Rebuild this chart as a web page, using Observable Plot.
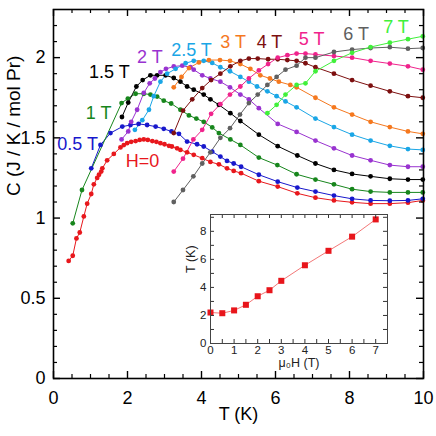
<!DOCTYPE html>
<html><head><meta charset="utf-8">
<script src="https://cdn.jsdelivr.net/npm/d3@7"></script>
<script src="https://cdn.jsdelivr.net/npm/@observablehq/plot@0.6"></script>
<style>
html,body{margin:0;padding:0;background:#fff;}
#wrap{position:relative;width:436px;height:436px;}
#wrap svg{position:absolute;overflow:visible;}
</style></head><body><div id="wrap"></div>
<script>
// ---------- data: specific heat C (J/K/mol Pr) vs T (K) for each field ----------
const T_0   = [0.41,0.52,0.62,0.71,0.82,0.91,1.02,1.09,1.18,1.23,1.29,1.32,1.45,1.63,1.81,1.9,1.99,2.1,2.22,2.33,2.44,2.55,2.67,2.78,2.89,3.0,3.12,3.2,3.34,3.43,3.61,3.79,4.02,4.24,4.47,4.69,4.87,5.07,5.55,6.06,6.59,7.08,7.58,8.07,8.57,9.09,9.58,9.98];
const C_0   = [0.733,0.765,0.873,0.91,1.01,1.09,1.15,1.21,1.25,1.27,1.29,1.31,1.36,1.40,1.44,1.455,1.467,1.475,1.48,1.487,1.49,1.487,1.48,1.475,1.467,1.46,1.45,1.446,1.435,1.425,1.41,1.394,1.373,1.35,1.335,1.31,1.294,1.28,1.23,1.196,1.154,1.127,1.11,1.098,1.09,1.09,1.096,1.11];
const T_05  = [1.02,1.27,1.54,1.86,2.08,2.3,2.53,2.76,2.98,3.19,3.39,3.61,3.88,4.06,4.29,4.51,4.69,4.87,5.07,5.55,6.06,6.59,7.08,7.58,8.07,8.57,9.09,9.58,9.98];
const C_05  = [1.31,1.456,1.53,1.57,1.58,1.587,1.58,1.57,1.556,1.54,1.525,1.477,1.46,1.446,1.414,1.383,1.356,1.34,1.32,1.27,1.227,1.19,1.165,1.14,1.12,1.11,1.108,1.11,1.12];
const T_1   = [0.52,0.77,1.84,2.01,2.22,2.44,2.62,2.8,2.98,3.18,3.43,3.66,3.86,4.06,4.29,4.47,4.78,5.05,5.55,6.05,6.57,7.08,7.58,8.07,8.57,9.09,9.58,9.98];
const C_1   = [0.967,1.175,1.717,1.745,1.775,1.775,1.77,1.757,1.732,1.714,1.675,1.64,1.62,1.60,1.565,1.53,1.49,1.456,1.377,1.33,1.273,1.24,1.21,1.18,1.165,1.16,1.16,1.16];
const T_15  = [1.85,2.02,2.24,2.41,2.62,2.8,3.03,3.25,3.43,3.61,3.79,4.06,4.24,4.47,4.78,5.05,5.55,6.06,6.59,7.08,7.58,8.07,8.57,9.09,9.58,9.98];
const C_15  = [1.63,1.72,1.82,1.86,1.89,1.89,1.89,1.873,1.85,1.82,1.80,1.77,1.74,1.706,1.654,1.605,1.52,1.448,1.39,1.34,1.30,1.275,1.26,1.245,1.24,1.24];
const T_2   = [1.84,2.02,2.1,2.26,2.44,2.6,2.74,2.89,3.04,3.25,3.48,3.70,3.79,4.02,4.24,4.51,4.77,5.05,5.28,5.55,6.06,6.57,7.08,7.58,8.07,8.57,9.09,9.58,9.98];
const C_2   = [1.49,1.54,1.60,1.675,1.78,1.84,1.87,1.91,1.93,1.945,1.95,1.94,1.925,1.89,1.87,1.85,1.815,1.77,1.74,1.685,1.587,1.537,1.483,1.435,1.39,1.36,1.33,1.32,1.32];
const T_25  = [2.2,2.4,2.58,2.71,2.89,3.07,3.3,3.57,3.79,4.06,4.29,4.51,4.77,5.05,5.28,5.5,5.78,6.03,6.27,6.57,7.08,7.58,8.07,8.57,9.09,9.58,9.98];
const C_25  = [1.55,1.61,1.675,1.76,1.85,1.90,1.93,1.965,1.98,1.98,1.967,1.94,1.915,1.88,1.85,1.82,1.79,1.76,1.727,1.69,1.62,1.567,1.52,1.483,1.45,1.43,1.425];
const T_3   = [3.25,3.46,3.66,3.93,4.2,4.5,4.77,5.05,5.32,5.59,5.85,6.09,6.4,6.57,7.08,7.58,8.07,8.57,9.09,9.58,9.98];
const C_3   = [1.815,1.88,1.935,1.97,1.985,1.985,1.98,1.96,1.93,1.89,1.87,1.85,1.83,1.815,1.75,1.69,1.645,1.60,1.567,1.54,1.525];
const T_4   = [3.25,3.5,3.75,4.02,4.26,4.51,4.78,5.05,5.28,5.52,5.8,6.06,6.32,6.57,6.81,7.08,7.58,8.07,8.57,9.09,9.58,9.98];
const C_4   = [1.53,1.67,1.74,1.81,1.86,1.90,1.946,1.98,1.994,1.994,1.99,1.99,1.985,1.98,1.965,1.94,1.90,1.86,1.825,1.79,1.76,1.75];
const T_5   = [3.25,3.5,3.78,4.02,4.26,4.51,4.77,5.05,5.28,5.55,5.8,6.06,6.32,6.57,6.81,7.08,7.58,8.07,8.57,9.09,9.58,9.98];
const C_5   = [1.29,1.37,1.49,1.55,1.65,1.71,1.77,1.82,1.87,1.92,1.96,2.0,2.015,2.025,2.025,2.02,2.01,2.0,1.98,1.963,1.946,1.925];
const T_6   = [3.25,3.5,3.78,4.02,4.24,4.51,4.77,5.04,5.28,5.52,5.78,6.03,6.27,6.57,6.81,7.08,7.58,8.07,8.57,9.09,9.58,9.98];
const C_6   = [1.10,1.175,1.26,1.34,1.41,1.50,1.56,1.645,1.717,1.77,1.83,1.88,1.925,1.95,2.0,2.0,2.035,2.05,2.06,2.065,2.056,2.06];
const T_7   = [5.78,6.03,6.27,6.57,6.81,7.08,7.58,8.07,8.57,9.09,9.58,9.98];
const C_7   = [1.654,1.706,1.77,1.83,1.84,1.915,1.98,2.03,2.066,2.093,2.115,2.133];

const fieldNames  = ["H=0","0.5 T","1 T","1.5 T","2 T","2.5 T","3 T","4 T","5 T","6 T","7 T"];
const fieldColors = ["#e8171c","#1818cc","#17861c","#000000","#9933d0","#1aa6e6","#f5781e","#7d1010","#f0238c","#606060","#40f03a"];
// label anchor positions (T, C) for each curve name
const labelT = [1.95,0.10,0.87,0.96,2.26,3.18,4.51,5.49,6.63,7.83,8.91];
const labelC = [1.32,1.425,1.617,1.873,1.967,2.01,2.06,2.06,2.077,2.108,2.154];

// inset: transition temperature vs field
const insetH = [0,0.5,1,1.5,2,2.5,3,4,5,6,7];
const insetT = [2.21,2.16,2.36,2.76,3.37,3.80,4.47,5.58,6.61,7.62,8.85];

// tick values
const xMajor = [0,2,4,6,8,10];
const xMinor = [0.5,1,1.5,2.5,3,3.5,4.5,5,5.5,6.5,7,7.5,8.5,9,9.5];
const yMajor = [0,0.5,1,1.5,2];
const yMinor = [0.1,0.2,0.3,0.4,0.6,0.7,0.8,0.9,1.1,1.2,1.3,1.4,1.6,1.7,1.8,1.9,2.1,2.2];
const ixLabels = [0,1,2,3,4,5,6,7];
const ixTicks = [0.5,1,1.5,2,2.5,3,3.5,4,4.5,5,5.5,6,6.5,7];
const iyLabels = [0,2,4,6,8];
const iyTicks = [1,2,3,4,5,6,7,8,9];

const xTitle = "T (K)";
const yTitle = "C (J / K / mol Pr)";
const ixTitle = "μ₀H (T)";
const iyTitle = "T (K)";

// ---------- build tables ----------
const curves = [[T_0,C_0],[T_05,C_05],[T_1,C_1],[T_15,C_15],[T_2,C_2],[T_25,C_25],[T_3,C_3],[T_4,C_4],[T_5,C_5],[T_6,C_6],[T_7,C_7]];
const rows = [];
curves.forEach(([Ts, Cs], k) => Ts.forEach((t, i) => rows.push({field: fieldNames[k], T: t, C: Cs[i]})));
const labelRows = fieldNames.map((f, i) => ({field: f, T: labelT[i], C: labelC[i]}));
const insetRows = insetH.map((h, i) => ({H: h, Tn: insetT[i]}));

const FONT = "'Liberation Sans', Arial, Helvetica, sans-serif";
const wrap = document.getElementById("wrap");

// ---------- main chart ----------
const W = 436, H = 436, mL = 53, mR = 13, mT = 9, mB = 58;
const fw = W - mL - mR, fh = H - mT - mB;
const id = d => d;
const main = Plot.plot({
  width: W, height: H, marginLeft: mL, marginRight: mR, marginTop: mT, marginBottom: mB,
  style: {fontFamily: FONT, fontSize: "18px", color: "black", background: "transparent"},
  x: {domain: [0, 10]},
  y: {domain: [0, 2.3]},
  color: {domain: fieldNames, range: fieldColors},
  marks: [
    Plot.line(rows, {x: "T", y: "C", z: "field", stroke: "field", strokeWidth: 1}),
    Plot.dot(rows, {x: "T", y: "C", fill: "field", r: 2.4}),
    Plot.text(labelRows, {x: "T", y: "C", text: "field", fill: "field", textAnchor: "start", lineAnchor: "bottom", fontSize: 18}),
    // inward ticks on all four sides
    Plot.tickX(xMajor, {x: id, insetTop: fh - 7, strokeWidth: 1.4}),
    Plot.tickX(xMinor, {x: id, insetTop: fh - 4, strokeWidth: 1.2}),
    Plot.tickX(xMajor, {x: id, insetBottom: fh - 7, strokeWidth: 1.4}),
    Plot.tickX(xMinor, {x: id, insetBottom: fh - 4, strokeWidth: 1.2}),
    Plot.tickY(yMajor, {y: id, insetRight: fw - 7, strokeWidth: 1.4}),
    Plot.tickY(yMinor, {y: id, insetRight: fw - 4, strokeWidth: 1.2}),
    Plot.tickY(yMajor, {y: id, insetLeft: fw - 7, strokeWidth: 1.4}),
    Plot.tickY(yMinor, {y: id, insetLeft: fw - 4, strokeWidth: 1.2}),
    Plot.axisX(xMajor, {anchor: "bottom", tickSize: 0, tickPadding: 13, fontSize: 18, label: null, tickFormat: d => String(d)}),
    Plot.axisY(yMajor, {anchor: "left", tickSize: 0, tickPadding: 8, fontSize: 18, label: null, tickFormat: d => String(d)}),
    Plot.frame({stroke: "black", strokeWidth: 1.6}),
    Plot.text([yTitle], {text: id, frameAnchor: "left", rotate: -90, dx: -40, dy: 2, fontSize: 19}),
    Plot.text([xTitle], {text: id, frameAnchor: "bottom", dy: 41, fontSize: 18})
  ]
});
main.style.left = "0px"; main.style.top = "0px";
wrap.appendChild(main);

// ---------- inset ----------
const iW = 212, iH = 169, iL = 30, iR = 5, iT = 5, iB = 35;
const ifw = iW - iL - iR, ifh = iH - iT - iB;
const inset = Plot.plot({
  width: iW, height: iH, marginLeft: iL, marginRight: iR, marginTop: iT, marginBottom: iB,
  style: {fontFamily: FONT, fontSize: "11.5px", color: "#222", background: "transparent"},
  x: {domain: [0, 7.5]},
  y: {domain: [0, 9.2]},
  marks: [
    Plot.frame({fill: "white"}),
    Plot.line(insetRows, {x: "H", y: "Tn", stroke: "#f06868", strokeWidth: 0.9}),
    Plot.dot(insetRows, {x: "H", y: "Tn", symbol: "square", fill: "#e8151b", r: 3.4}),
    Plot.tickX(ixTicks, {x: id, insetTop: ifh - 4, stroke: "#333"}),
    Plot.tickX(ixTicks, {x: id, insetBottom: ifh - 4, stroke: "#333"}),
    Plot.tickY(iyTicks, {y: id, insetRight: ifw - 4, stroke: "#333"}),
    Plot.tickY(iyTicks, {y: id, insetLeft: ifw - 4, stroke: "#333"}),
    Plot.axisX(ixLabels, {anchor: "bottom", tickSize: 0, tickPadding: 2, fontSize: 11.5, label: null, tickFormat: d => String(d)}),
    Plot.axisY(iyLabels, {anchor: "left", tickSize: 0, tickPadding: 4, fontSize: 11.5, label: null, tickFormat: d => String(d)}),
    Plot.frame({stroke: "#444", strokeWidth: 1}),
    Plot.text([ixTitle], {text: id, frameAnchor: "bottom", dy: 23, fontSize: 12.5}),
    Plot.text([iyTitle], {text: id, frameAnchor: "left", rotate: -90, dx: -20, dy: -6, fontSize: 12.5})
  ]
});
inset.style.left = "180px"; inset.style.top = "209px";
wrap.appendChild(inset);
</script>
</body></html>
